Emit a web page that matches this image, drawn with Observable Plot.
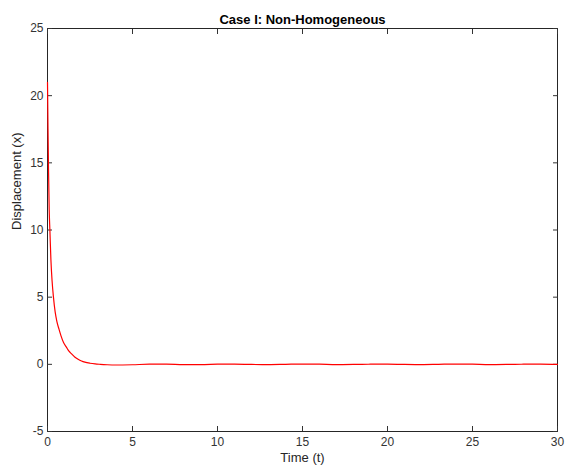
<!DOCTYPE html>
<html>
<head>
<meta charset="utf-8">
<script src="https://cdn.jsdelivr.net/npm/d3@7"></script>
<script src="https://cdn.jsdelivr.net/npm/@observablehq/plot@0.6"></script>
<style>
  html, body { margin: 0; padding: 0; background: #fff; }
  #chart svg { display: block; }
</style>
</head>
<body>
<div id="chart"></div>
<script>
const title = "Case I: Non-Homogeneous";
const xLabel = "Time (t)";
const yLabel = "Displacement (x)";
const xTicks = [0, 5, 10, 15, 20, 25, 30];
const yTicks = [-5, 0, 5, 10, 15, 20, 25];

const times = [0, 0.03, 0.06, 0.1, 0.14, 0.2, 0.27, 0.35, 0.45, 0.55, 0.68, 0.8, 0.95, 1.1, 1.25, 1.4, 1.6, 1.8, 2.0, 2.2, 2.5, 2.8, 3.1, 3.5,
  4, 5, 6, 7, 8, 9, 10, 11, 12, 13, 14, 15, 16, 17, 18, 19, 20, 21, 22, 23, 24, 25, 26, 27, 28, 29, 30];
const displacement = [21, 17.5, 14.5, 11.5, 10, 7.8, 6.2, 5, 3.9, 3.2, 2.6, 2.1, 1.6, 1.3, 1.0, 0.8, 0.55, 0.38, 0.25, 0.16, 0.08, 0.03, 0.0, -0.03,
  -0.05, -0.03, 0.01, 0.01, -0.02, -0.02, 0.01, 0.02, -0.01, -0.02, 0.0, 0.02, 0.01, -0.02, -0.01, 0.01, 0.02, -0.01, -0.02, 0.0, 0.02, 0.01, -0.02, -0.01, 0.01, 0.02, -0.01];

const data = times.map((t, i) => ({t, x: displacement[i]}));

const chart = Plot.plot({
  width: 566,
  height: 466,
  marginLeft: 47,
  marginRight: 9,
  marginTop: 28,
  marginBottom: 35,
  style: {fontFamily: "'Liberation Sans', Arial, Helvetica, sans-serif", fontSize: "12px", color: "#333", background: "#fff"},
  x: {domain: [0, 30], ticks: xTicks, label: null},
  y: {domain: [-5, 25], ticks: yTicks, label: null},
  marks: [
    Plot.frame({stroke: "#262626", strokeWidth: 1}),
    Plot.axisX({anchor: "bottom", ticks: xTicks, tickSize: -5, tickPadding: 11, tickFormat: d => String(d), label: null, fontSize: 12}),
    Plot.axisX({anchor: "top", ticks: xTicks, tickSize: -5, tickFormat: () => "", label: null}),
    Plot.axisY({anchor: "left", ticks: yTicks, tickSize: -5, tickPadding: 9, tickFormat: d => String(d), label: null, fontSize: 12}),
    Plot.axisY({anchor: "right", ticks: yTicks, tickSize: -5, tickFormat: () => "", label: null}),
    Plot.line(data, {x: "t", y: "x", stroke: "red", strokeWidth: 1.2, curve: "monotone-x"}),
    Plot.text([title], {frameAnchor: "top", dy: -14, fontWeight: "bold", fontSize: 13, fill: "#000"}),
    Plot.text([xLabel], {frameAnchor: "bottom", dy: 30, fontSize: 13, fill: "#262626"}),
    Plot.text([yLabel], {frameAnchor: "left", dx: -31, rotate: -90, fontSize: 13, fill: "#262626"})
  ]
});
document.getElementById("chart").appendChild(chart);
</script>
</body>
</html>
